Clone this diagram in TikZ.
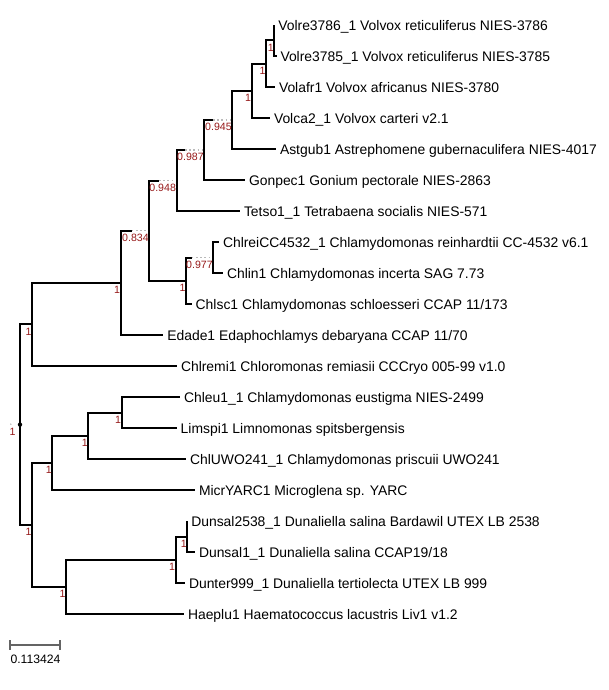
\documentclass[tikz,border=0pt]{standalone}
\usepackage{fontspec}
\setmainfont{Liberation Sans}
\definecolor{supp}{RGB}{150,25,25}
\definecolor{scalegray}{RGB}{100,100,100}
\begin{document}
\begin{tikzpicture}[x=1pt,y=-1pt,
  br/.style={line width=2pt, black},
  ext/.style={line width=1.7pt, gray!55, dash pattern=on 1.7pt off 2.5pt},
  leaf/.style={anchor=base west, inner sep=0pt, xshift=3.8pt, yshift=-5.3pt, font=\fontsize{13.9}{16}\selectfont},
  sup/.style={anchor=north east, inner sep=0pt, xshift=-0.4pt, yshift=-3.3pt, text=supp, font=\fontsize{10.6}{12}\selectfont}]
\path[use as bounding box] (0,0) rectangle (608,690);

% internal nodes
\coordinate (root) at (20,424.6);
\coordinate (F) at (32,324.4);
\coordinate (G) at (32,524.9);
\coordinate (H) at (120.7,282.8);
\coordinate (I) at (149.3,230.6);
\coordinate (Ie) at (131.7,230.6);
\coordinate (J) at (176.5,180.5);
\coordinate (Je) at (159,180.5);
\coordinate (L) at (204.3,150);
\coordinate (Le) at (185,150);
\coordinate (D) at (232.3,119.9);
\coordinate (De) at (213,119.9);
\coordinate (C) at (251.7,90.9);
\coordinate (B) at (266,63.75);
\coordinate (A) at (274.3,40.5);
\coordinate (K) at (186,280.75);
\coordinate (M) at (213.3,257.5);
\coordinate (Me) at (191.7,257.5);
\coordinate (P) at (52.3,462.9);
\coordinate (O) at (88.3,435.75);
\coordinate (N) at (121.7,412.5);
\coordinate (S) at (66,586.9);
\coordinate (R) at (175.7,559.75);
\coordinate (Q) at (187.3,536.5);

% leaf ends
\coordinate (l1) at (274.3,25);
\coordinate (l2) at (276.5,56);
\coordinate (l3) at (275,87);
\coordinate (l4) at (270,118);
\coordinate (l5) at (276,149);
\coordinate (l6) at (245,180);
\coordinate (l7) at (240,211);
\coordinate (l8) at (219,242);
\coordinate (l9) at (223,273);
\coordinate (l10) at (191.7,304);
\coordinate (l11) at (163.3,335);
\coordinate (l12) at (177,366);
\coordinate (l13) at (180,397);
\coordinate (l14) at (176.7,428);
\coordinate (l15) at (186,459);
\coordinate (l16) at (195,490);
\coordinate (l17) at (187.3,521);
\coordinate (l18) at (195,552);
\coordinate (l19) at (185,583);
\coordinate (l20) at (184,614);

% branches
\draw[br] (root) |- (F);
\draw[br] (root) |- (G);
\draw[br] (F) |- (H);
\draw[br] (F) |- (l12);
\draw[br] (H) |- (Ie); \draw[ext] (Ie) -- (I);
\draw[br] (H) |- (l11);
\draw[br] (I) |- (Je); \draw[ext] (Je) -- (J);
\draw[br] (I) |- (K);
\draw[br] (J) |- (Le); \draw[ext] (Le) -- (L);
\draw[br] (J) |- (l7);
\draw[br] (L) |- (De); \draw[ext] (De) -- (D);
\draw[br] (L) |- (l6);
\draw[br] (D) |- (C);
\draw[br] (D) |- (l5);
\draw[br] (C) |- (B);
\draw[br] (C) |- (l4);
\draw[br] (B) |- (A);
\draw[br] (B) |- (l3);
\draw[br] (A) |- (l1);
\draw[br] (A) |- (l2);
\draw[br] (K) |- (Me); \draw[ext] (Me) -- (M);
\draw[br] (K) |- (l10);
\draw[br] (M) |- (l8);
\draw[br] (M) |- (l9);
\draw[br] (G) |- (P);
\draw[br] (G) |- (S);
\draw[br] (P) |- (O);
\draw[br] (P) |- (l16);
\draw[br] (O) |- (N);
\draw[br] (O) |- (l15);
\draw[br] (N) |- (l13);
\draw[br] (N) |- (l14);
\draw[br] (S) |- (R);
\draw[br] (S) |- (l20);
\draw[br] (R) |- (Q);
\draw[br] (R) |- (l19);
\draw[br] (Q) |- (l17);
\draw[br] (Q) |- (l18);

% root marker
\fill[black] (root) circle (2.2pt);
\fill[gray!60] (10.8,424.2) circle (0.8pt);
\node[text=supp, font=\fontsize{10.6}{12}\selectfont, inner sep=0pt] (rs) at (12.5,432) {1};

% support values
\node[sup] (sA) at (A) {1};
\node[sup] (sB) at (B) {1};
\node[sup] (sC) at (C) {1};
\node[sup] (sD) at (D) {0.945};
\node[sup] (sL) at (L) {0.987};
\node[sup] (sJ) at (J) {0.948};
\node[sup] (sI) at (I) {0.834};
\node[sup] (sK) at (K) {1};
\node[sup] (sM) at (M) {0.977};
\node[sup] (sH) at (H) {1};
\node[sup] (sF) at (F) {1};
\node[sup] (sN) at (N) {1};
\node[sup] (sO) at (O) {1};
\node[sup] (sP) at (P) {1};
\node[sup] (sQ) at (Q) {1};
\node[sup] (sR) at (R) {1};
\node[sup] (sS) at (S) {1};
\node[sup] (sG) at (G) {1};

% leaf labels
\node[leaf] (t1) at (l1) {Volre3786\_1 Volvox reticuliferus NIES-3786};
\node[leaf] (t2) at (l2) {Volre3785\_1 Volvox reticuliferus NIES-3785};
\node[leaf] (t3) at (l3) {Volafr1 Volvox africanus NIES-3780};
\node[leaf] (t4) at (l4) {Volca2\_1 Volvox carteri v2.1};
\node[leaf] (t5) at (l5) {Astgub1 Astrephomene gubernaculifera NIES-4017};
\node[leaf] (t6) at (l6) {Gonpec1 Gonium pectorale NIES-2863};
\node[leaf] (t7) at (l7) {Tetso1\_1 Tetrabaena socialis NIES-571};
\node[leaf] (t8) at (l8) {ChlreiCC4532\_1 Chlamydomonas reinhardtii CC-4532 v6.1};
\node[leaf] (t9) at (l9) {Chlin1 Chlamydomonas incerta SAG 7.73};
\node[leaf] (t10) at (l10) {Chlsc1 Chlamydomonas schloesseri CCAP 11/173};
\node[leaf] (t11) at (l11) {Edade1 Edaphochlamys debaryana CCAP 11/70};
\node[leaf] (t12) at (l12) {Chlremi1 Chloromonas remiasii CCCryo 005-99 v1.0};
\node[leaf] (t13) at (l13) {Chleu1\_1 Chlamydomonas eustigma NIES-2499};
\node[leaf] (t14) at (l14) {Limspi1 Limnomonas spitsbergensis};
\node[leaf] (t15) at (l15) {ChlUWO241\_1 Chlamydomonas priscuii UWO241};
\node[leaf] (t16) at (l16) {MicrYARC1 Microglena sp. YARC};
\node[leaf] (t17) at (l17) {Dunsal2538\_1 Dunaliella salina Bardawil UTEX LB 2538};
\node[leaf] (t18) at (l18) {Dunsal1\_1 Dunaliella salina CCAP19/18};
\node[leaf] (t19) at (l19) {Dunter999\_1 Dunaliella tertiolecta UTEX LB 999};
\node[leaf] (t20) at (l20) {Haeplu1 Haematococcus lacustris Liv1 v1.2};

% scale bar
\coordinate (sb1) at (10,645);
\coordinate (sb2) at (60,645);
\draw[scalegray, line width=1.5pt] (sb1) -- (sb2);
\draw[scalegray, line width=1.5pt] ([yshift=5pt]sb1) -- ([yshift=-5pt]sb1);
\draw[scalegray, line width=1.5pt] ([yshift=5pt]sb2) -- ([yshift=-5pt]sb2);
\node[anchor=base, inner sep=0pt, font=\fontsize{12.2}{14}\selectfont] (sbt) at (35.5,663) {0.113424};
\end{tikzpicture}
\end{document}
